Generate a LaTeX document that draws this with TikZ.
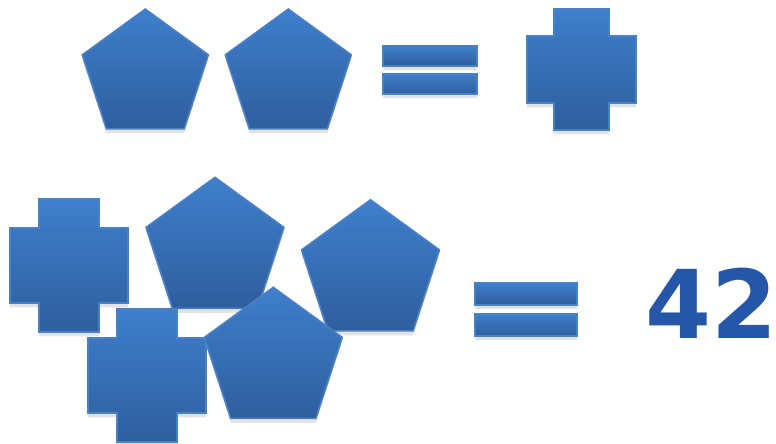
\documentclass[tikz,border=0pt]{standalone}
\usepackage{fontspec}
\newfontfamily\digitfont{DejaVu Sans}
\usetikzlibrary{shapes.geometric,shadows}
\definecolor{shapetop}{HTML}{3F7FCC}
\definecolor{shapebot}{HTML}{2E5E9E}
\definecolor{shapeline}{HTML}{4A80C4}
\definecolor{numblue}{HTML}{2556A8}
\tikzset{
  shapefill/.style={draw=shapeline, line width=0.9pt, top color=shapetop, bottom color=shapebot,
    drop shadow={opacity=0.22, shadow xshift=0pt, shadow yshift=-2.5pt}},
  pentagon/.style={shapefill, regular polygon, regular polygon sides=5, inner sep=0pt, minimum size=#1},
  bar/.style={shapefill}
}
\begin{document}
\begin{tikzpicture}[x=0.02cm, y=-0.02cm]
  \fill[white] (0,0) rectangle (776,443);
  \useasboundingbox (0,0) rectangle (776,443);
  % top row: two pentagons = one cross
  \node[pentagon=2.65cm] (p1) at (145.3,75.3) {};
  \node[pentagon=2.65cm] (p2) at (288.3,75.3) {};
  \draw[bar] (383,46) rectangle (477,66);
  \draw[bar] (383,74) rectangle (477,94);
  \draw[shapefill] (554,9) -- (609,9) -- (609,36) -- (636,36) -- (636,103) -- (609,103)
    -- (609,130) -- (554,130) -- (554,103) -- (527,103) -- (527,36) -- (554,36) -- cycle;
  % bottom row: two crosses and three pentagons = 42
  \draw[shapefill] (39,199) -- (99,199) -- (99,228) -- (128,228) -- (128,303) -- (99,303)
    -- (99,332) -- (39,332) -- (39,303) -- (10,303) -- (10,228) -- (39,228) -- cycle;
  \node[pentagon=2.9cm] (p3) at (215,249.8) {};
  \node[pentagon=2.9cm] (p4) at (370.5,272.3) {};
  \draw[shapefill] (117,309) -- (177,309) -- (177,338) -- (206,338) -- (206,413) -- (177,413)
    -- (177,442) -- (117,442) -- (117,413) -- (88,413) -- (88,338) -- (117,338) -- cycle;
  \node[pentagon=2.9cm] (p5) at (273.3,359.8) {};
  \draw[bar] (475,283) rectangle (577,305);
  \draw[bar] (475,314) rectangle (577,336);
  \node[font=\digitfont\bfseries\fontsize{54}{54}\selectfont, text=numblue, anchor=base west, inner sep=0pt]
    (answer) at (645,338) {42};
\end{tikzpicture}
\end{document}
